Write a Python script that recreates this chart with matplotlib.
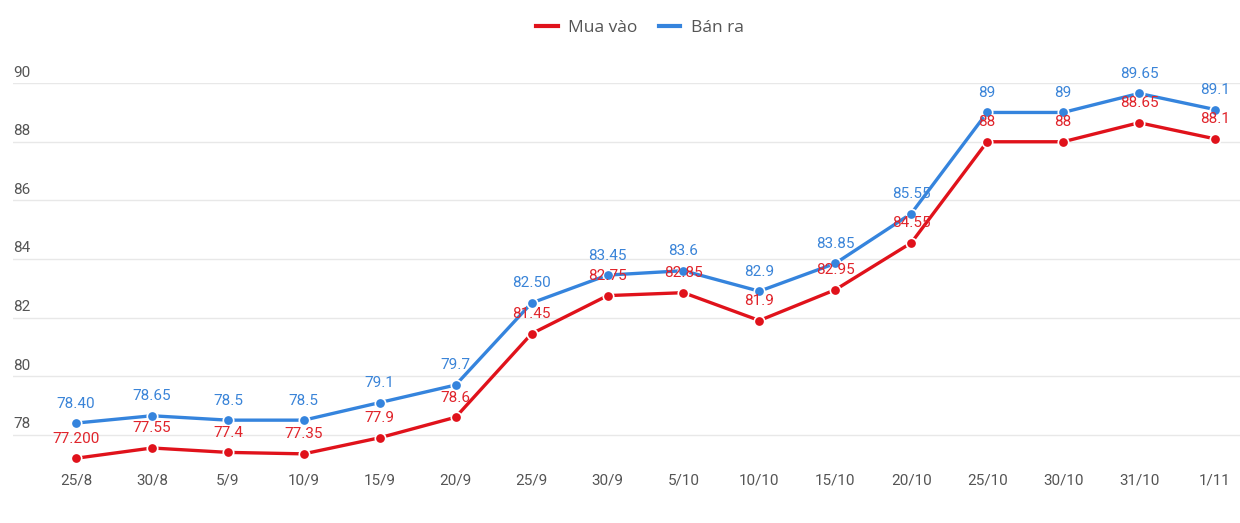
import matplotlib.pyplot as plt

dates = ["25/8", "30/8", "5/9", "10/9", "15/9", "20/9", "25/9", "30/9", "5/10",
         "10/10", "15/10", "20/10", "25/10", "30/10", "31/10", "1/11"]
mua_vao = [77.2, 77.55, 77.4, 77.35, 77.9, 78.6, 81.45, 82.75, 82.85, 81.9,
           82.95, 84.55, 88, 88, 88.65, 88.1]
ban_ra = [78.40, 78.65, 78.5, 78.5, 79.1, 79.7, 82.50, 83.45, 83.6, 82.9,
          83.85, 85.55, 89, 89, 89.65, 89.1]
mua_labels = ["77.200", "77.55", "77.4", "77.35", "77.9", "78.6", "81.45", "82.75",
              "82.85", "81.9", "82.95", "84.55", "88", "88", "88.65", "88.1"]
ban_labels = ["78.40", "78.65", "78.5", "78.5", "79.1", "79.7", "82.50", "83.45",
              "83.6", "82.9", "83.85", "85.55", "89", "89", "89.65", "89.1"]
yticks = [78, 80, 82, 84, 86, 88, 90]

plt.rcParams['font.family'] = ['Roboto', 'DejaVu Sans']

red = "#e0121b"
blue = "#3584dd"

fig = plt.figure(figsize=(12.4, 5.23), dpi=100)
ax = fig.add_axes([0.0105, 0.107, 0.9895, 0.734])

x = list(range(len(dates)))
l1, = ax.plot(x, mua_vao, color=red, lw=2.4, marker="o", ms=7.5,
              mec="white", mew=1.2, label="Mua vào", zorder=3, clip_on=False)
l2, = ax.plot(x, ban_ra, color=blue, lw=2.4, marker="o", ms=7.5,
              mec="white", mew=1.2, label="Bán ra", zorder=4, clip_on=False)

for xi, v, s in zip(x, mua_vao, mua_labels):
    ax.annotate(s, (xi, v), xytext=(0, 9), textcoords="offset points",
                ha="center", va="bottom", color="#e0242b", fontsize=11, zorder=5)
for xi, v, s in zip(x, ban_ra, ban_labels):
    ax.annotate(s, (xi, v), xytext=(0, 9), textcoords="offset points",
                ha="center", va="bottom", color="#3a84d8", fontsize=11, zorder=5)

ax.set_xlim(-0.83, 15.33)
ax.set_ylim(76.9, 90)
ax.set_xticks(x)
ax.set_xticklabels(dates, color="#555555", fontsize=11)
ax.tick_params(axis="x", length=0, pad=5)
ax.set_yticks(yticks)
ax.set_yticklabels([])
ax.tick_params(axis="y", length=0)
ax.grid(axis="y", color="#e8e8e8", lw=1)
ax.set_axisbelow(True)
for sp in ax.spines.values():
    sp.set_visible(False)

# y labels sit just above their gridlines, inside the plot
for t in yticks:
    ax.text(0.0, t + 0.12, str(t), transform=ax.get_yaxis_transform(),
            ha="left", va="bottom", color="#555555", fontsize=11)

leg = fig.legend(handles=[l1, l2], labels=["Mua vào", "Bán ra"], loc="center",
                 bbox_to_anchor=(0.516, 0.947), ncol=2, frameon=False,
                 handlelength=1.25, handletextpad=0.6, columnspacing=1.2,
                 labelcolor="#555555",
                 prop={"family": ["Open Sans", "DejaVu Sans"], "size": 12.5})
for h in leg.legend_handles:
    h.set_marker("")
    h.set_linewidth(3)

fig.savefig("out.png", dpi=100, facecolor="white")
